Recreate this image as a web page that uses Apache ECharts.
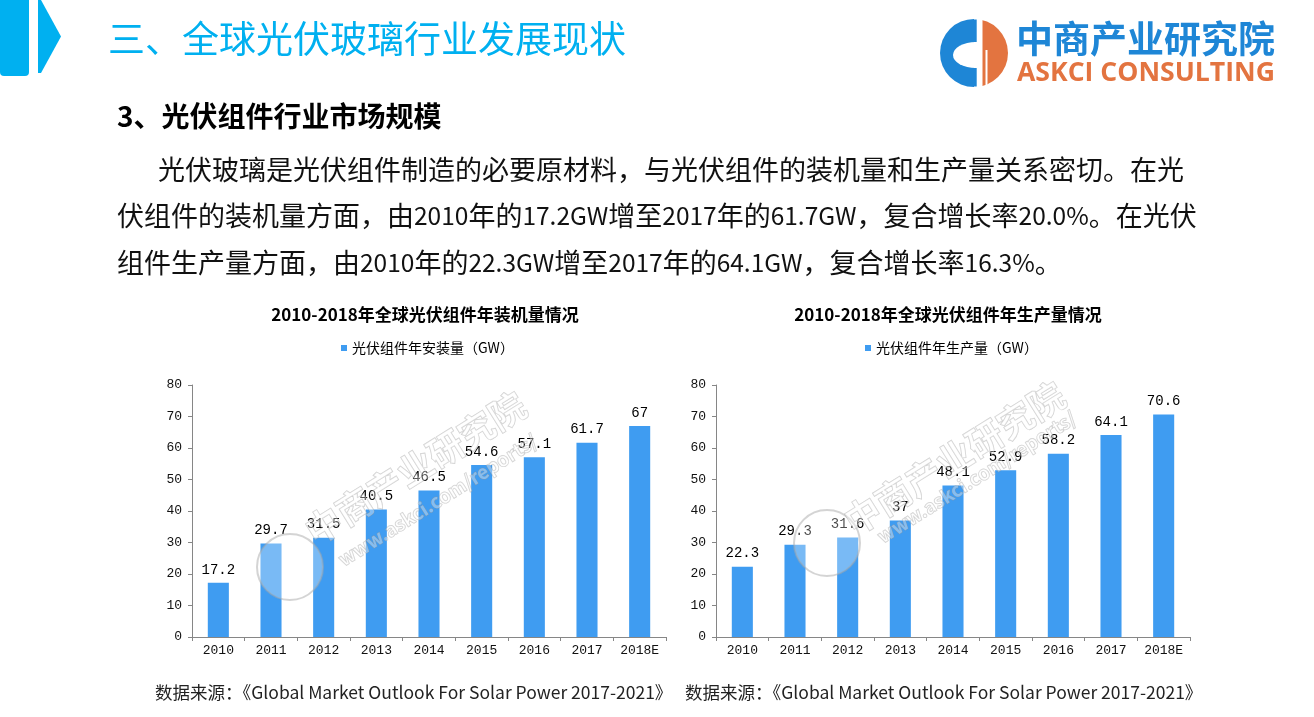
<!DOCTYPE html>
<html>
<head>
<meta charset="utf-8">
<script src="https://cdn.jsdelivr.net/npm/echarts@6/dist/echarts.min.js"></script>
<style>
html,body{margin:0;padding:0;background:#fff;}
#main{width:1314px;height:717px;}
</style>
</head>
<body>
<div id="main"></div>
<script>
// ---- data ----
const years = ['2010', '2011', '2012', '2013', '2014', '2015', '2016', '2017', '2018E'];
const installed = [17.2, 29.7, 31.5, 40.5, 46.5, 54.6, 57.1, 61.7, 67];
const production = [22.3, 29.3, 31.6, 37, 48.1, 52.9, 58.2, 64.1, 70.6];
const yMin = 0, yMax = 80, yStep = 10;
const chartTitles = ['2010-2018年全球光伏组件年装机量情况', '2010-2018年全球光伏组件年生产量情况'];
const seriesNames = ['光伏组件年安装量（GW）', '光伏组件年生产量（GW）'];
const pageTitle = '三、全球光伏玻璃行业发展现状';
const sectionTitle = '3、光伏组件行业市场规模';
const paragraph = [
  '光伏玻璃是光伏组件制造的必要原材料，与光伏组件的装机量和生产量关系密切。在光',
  '伏组件的装机量方面，由2010年的17.2GW增至2017年的61.7GW，复合增长率20.0%。在光伏',
  '组件生产量方面，由2010年的22.3GW增至2017年的64.1GW，复合增长率16.3%。'
];
const sourceText = '数据来源：《Global Market Outlook For Solar Power 2017-2021》';

const BAR = '#3F9CF1';
const AXIS = '#868686';
const CJK = '"Noto Sans CJK SC", "Noto Sans", sans-serif';
const MONO = '"Liberation Mono", "DejaVu Sans Mono", monospace';

// tag ASCII runs for rich text (narrower latin like the original slide)
function richLine(s) {
  return s.replace(/[\x21-\x7E]+/g, function (m) { return '{a|' + m + '}'; });
}

function xAxisCfg(gi) {
  return {
    type: 'category', gridIndex: gi, data: years,
    axisLine: { lineStyle: { color: AXIS, width: 1 } },
    axisTick: { show: true, length: 4, alignWithLabel: false, lineStyle: { color: AXIS } },
    axisLabel: { color: '#111', fontFamily: MONO, fontSize: 13, margin: 7 }
  };
}
function yAxisCfg(gi) {
  return {
    type: 'value', gridIndex: gi, min: yMin, max: yMax, interval: yStep,
    axisLine: { show: true, lineStyle: { color: AXIS, width: 1 } },
    axisTick: { show: true, length: 4, lineStyle: { color: AXIS } },
    splitLine: { show: false },
    axisLabel: { color: '#111', fontFamily: MONO, fontSize: 13, margin: 10 }
  };
}
function barSeries(name, data, gi) {
  return {
    name: name, type: 'bar', xAxisIndex: gi, yAxisIndex: gi, data: data,
    barWidth: '40%',
    itemStyle: { color: BAR },
    label: { show: true, position: 'top', distance: 6, color: '#000', fontFamily: MONO, fontSize: 14 }
  };
}

function wmText(text, x, y, size, rotDeg) {
  return {
    type: 'text', z: 100, x: x, y: y, rotation: rotDeg * Math.PI / 180,
    style: { text: text, font: 'bold ' + size + 'px ' + CJK, fill: 'rgba(255,255,255,0.35)',
      stroke: 'rgba(150,150,150,0.45)', lineWidth: 1, textVerticalAlign: 'bottom' },
    silent: true
  };
}
function wmCircle(cx, cy) {
  return {
    type: 'circle', z: 100, shape: { cx: cx, cy: cy, r: 33 },
    style: { fill: 'rgba(255,255,255,0.3)', stroke: 'rgba(170,170,170,0.5)', lineWidth: 2 },
    silent: true
  };
}
function paraText(str, x, y) {
  return {
    type: 'text', x: x, y: y,
    style: {
      text: richLine(str), font: '27px ' + CJK, fill: '#111', textVerticalAlign: 'middle',
      rich: { a: { fontFamily: CJK, fontSize: 24.5, fill: '#111' } }
    }
  };
}

const LOGO_BLUE = '#1E86D6', LOGO_ORANGE = '#E37440';
const graphic = [
  // header decoration
  { type: 'rect', shape: { x: 0, y: -6, width: 29, height: 82, r: 4 }, style: { fill: '#00B0F0' } },
  { type: 'polygon', shape: { points: [[38, 0], [41, 0], [61, 36.5], [41, 73], [38, 73]] }, style: { fill: '#00B0F0' } },
  { type: 'text', x: 108, y: 39, style: { text: pageTitle, font: '37px ' + CJK, fill: '#00B0F0', textVerticalAlign: 'middle' } },
  // logo
  { type: 'sector', z: 1, shape: { cx: 974, cy: 53, r: 34, r0: 0, startAngle: Math.PI / 2, endAngle: Math.PI * 1.5, clockwise: true }, style: { fill: LOGO_BLUE } },
  { type: 'circle', z: 2, x: 976, y: 55, scaleX: 23 / 13, scaleY: 1, shape: { cx: 0, cy: 0, r: 13 }, style: { fill: '#fff' } },
  { type: 'sector', z: 3, shape: { cx: 974, cy: 53, r: 34, r0: 0, startAngle: -Math.PI / 2, endAngle: Math.PI / 2, clockwise: true }, style: { fill: LOGO_ORANGE } },
  { type: 'rect', z: 4, shape: { x: 974, y: 15, width: 8.5, height: 76 }, style: { fill: '#fff' } },
  { type: 'rect', z: 5, shape: { x: 973.5, y: 19.5, width: 3.2, height: 22.5 }, style: { fill: LOGO_BLUE } },
  { type: 'rect', z: 5, shape: { x: 973.5, y: 68, width: 3.2, height: 18.5 }, style: { fill: LOGO_BLUE } },
  { type: 'rect', z: 5, shape: { x: 985.5, y: 50, width: 2, height: 40 }, style: { fill: '#fff' } },
  { type: 'text', x: 1016, y: 39, style: { text: '中商产业研究院', font: 'bold 37px ' + CJK, fill: LOGO_BLUE, textVerticalAlign: 'middle' } },
  { type: 'text', x: 1017, y: 73, style: { text: 'ASKCI CONSULTING', font: 'bold 26.6px "Open Sans", "Noto Sans", sans-serif', fill: LOGO_ORANGE, textVerticalAlign: 'middle' } },
  // section text
  { type: 'text', x: 117, y: 116, style: { text: sectionTitle, font: 'bold 28px ' + CJK, fill: '#000', textVerticalAlign: 'middle' } },
  paraText(paragraph[0], 158, 170),
  paraText(paragraph[1], 117, 216),
  paraText(paragraph[2], 117, 263),
  // sources
  { type: 'text', x: 155, y: 692, style: { text: sourceText, font: '17.5px ' + CJK, fill: '#222', textVerticalAlign: 'middle' } },
  { type: 'text', x: 685, y: 692, style: { text: sourceText, font: '17.5px ' + CJK, fill: '#222', textVerticalAlign: 'middle' } },
  // watermarks
  wmCircle(290, 567),
  wmText('中商产业研究院', 318, 550, 36, 32),
  wmText('www.askci.com/reports/', 345, 569, 19, 32),
  wmCircle(827, 543),
  wmText('中商产业研究院', 857, 540, 36, 32),
  wmText('www.askci.com/reports/', 884, 546, 19, 32)
];

const option = {
  backgroundColor: '#fff',
  animation: false,
  textStyle: { fontFamily: CJK },
  title: [
    { text: chartTitles[0], left: 425, top: 306, textAlign: 'center', padding: 0,
      textStyle: { fontSize: 17, fontWeight: 'bold', color: '#000', fontFamily: CJK } },
    { text: chartTitles[1], left: 948, top: 306, textAlign: 'center', padding: 0,
      textStyle: { fontSize: 17, fontWeight: 'bold', color: '#000', fontFamily: CJK } }
  ],
  legend: [
    { data: [seriesNames[0]], left: 341, top: 341, padding: 0, icon: 'rect', itemWidth: 6, itemHeight: 6,
      textStyle: { fontSize: 14, color: '#000', fontFamily: CJK } },
    { data: [seriesNames[1]], left: 865, top: 341, padding: 0, icon: 'rect', itemWidth: 6, itemHeight: 6,
      textStyle: { fontSize: 14, color: '#000', fontFamily: CJK } }
  ],
  grid: [
    { left: 192, top: 385, width: 474, height: 252, containLabel: false },
    { left: 716, top: 385, width: 474, height: 252, containLabel: false }
  ],
  xAxis: [xAxisCfg(0), xAxisCfg(1)],
  yAxis: [yAxisCfg(0), yAxisCfg(1)],
  series: [barSeries(seriesNames[0], installed, 0), barSeries(seriesNames[1], production, 1)],
  graphic: graphic
};

const chart = echarts.init(document.getElementById('main'), null, { renderer: 'canvas', width: 1314, height: 717 });
chart.setOption(option);
</script>
</body>
</html>
